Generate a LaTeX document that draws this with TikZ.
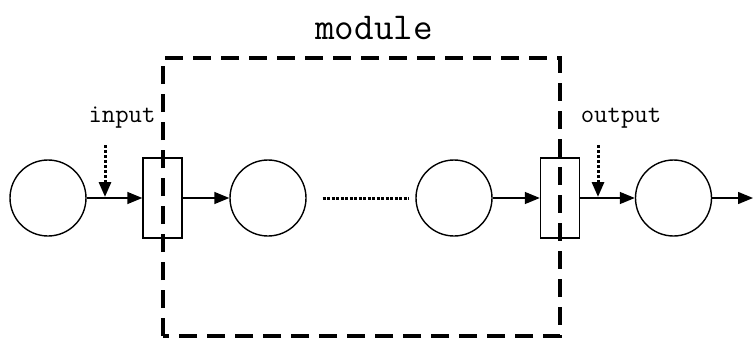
\documentclass[tikz,border=0pt]{standalone}
\usepackage{fontspec}
\usetikzlibrary{arrows.meta,calc}
\begin{document}
\begin{tikzpicture}[x=1pt,y=-1pt,
  place/.style={circle,draw,line width=1.4pt,minimum size=76pt,inner sep=0pt},
  gate/.style={rectangle,draw,line width=1.4pt,minimum width=39pt,minimum height=80pt,inner sep=0pt,fill=white},
  flow/.style={line width=1.4pt,-{Triangle[length=15pt,width=12pt]}},
  signal/.style={line width=3pt,dash pattern=on 3pt off 2pt,-{Triangle[length=15pt,width=12pt]}},
  lbl/.style={font=\ttfamily\fontsize{26}{26}\selectfont,inner sep=0pt},
  boundary/.style={line width=3.2pt,dash pattern=on 18pt off 10pt}]
\useasboundingbox (0,0) rectangle (753,338);
% places and transitions
\node[place] (c1) at (48,198) {};
\node[gate]  (r1) at (162.5,198) {};
\node[place] (c2) at (268,198) {};
\node[place] (c3) at (454,198) {};
\node[gate]  (r2) at (560,198) {};
\node[place] (c4) at (673.5,198) {};
\coordinate (end) at (753,198);
% module boundary
\coordinate (m1) at (163,58);
\coordinate (m2) at (560,58);
\coordinate (m3) at (560,336);
\coordinate (m4) at (163,336);
\draw[boundary] (m4) -- (m1) -- (m2) -- (m3) -- (m4);
\node[lbl,font=\ttfamily\fontsize{38}{38}\selectfont] (mod) at (374,28) {module};
% main flow
\draw[flow] (c1) -- (r1);
\draw[flow] (r1) -- (c2);
\coordinate (d1) at ($(c2.east)+(16,0)$);
\coordinate (d2) at ($(c3.west)+(-6,0)$);
\draw[line width=3pt,dash pattern=on 3pt off 1.5pt] (d1) -- (d2);
\draw[flow] (c3) -- (r2);
\draw[flow] (r2) -- (c4);
\draw[flow] (c4) -- (end);
% external signals
\node[lbl] (inp) at (122,118) {input};
\coordinate (is) at (105,145);
\coordinate (it) at (105,197);
\draw[signal] (is) -- (it);
\node[lbl] (outp) at (621,118) {output};
\coordinate (os) at (598,145);
\coordinate (ot) at (598,197);
\draw[signal] (os) -- (ot);
\end{tikzpicture}
\end{document}
